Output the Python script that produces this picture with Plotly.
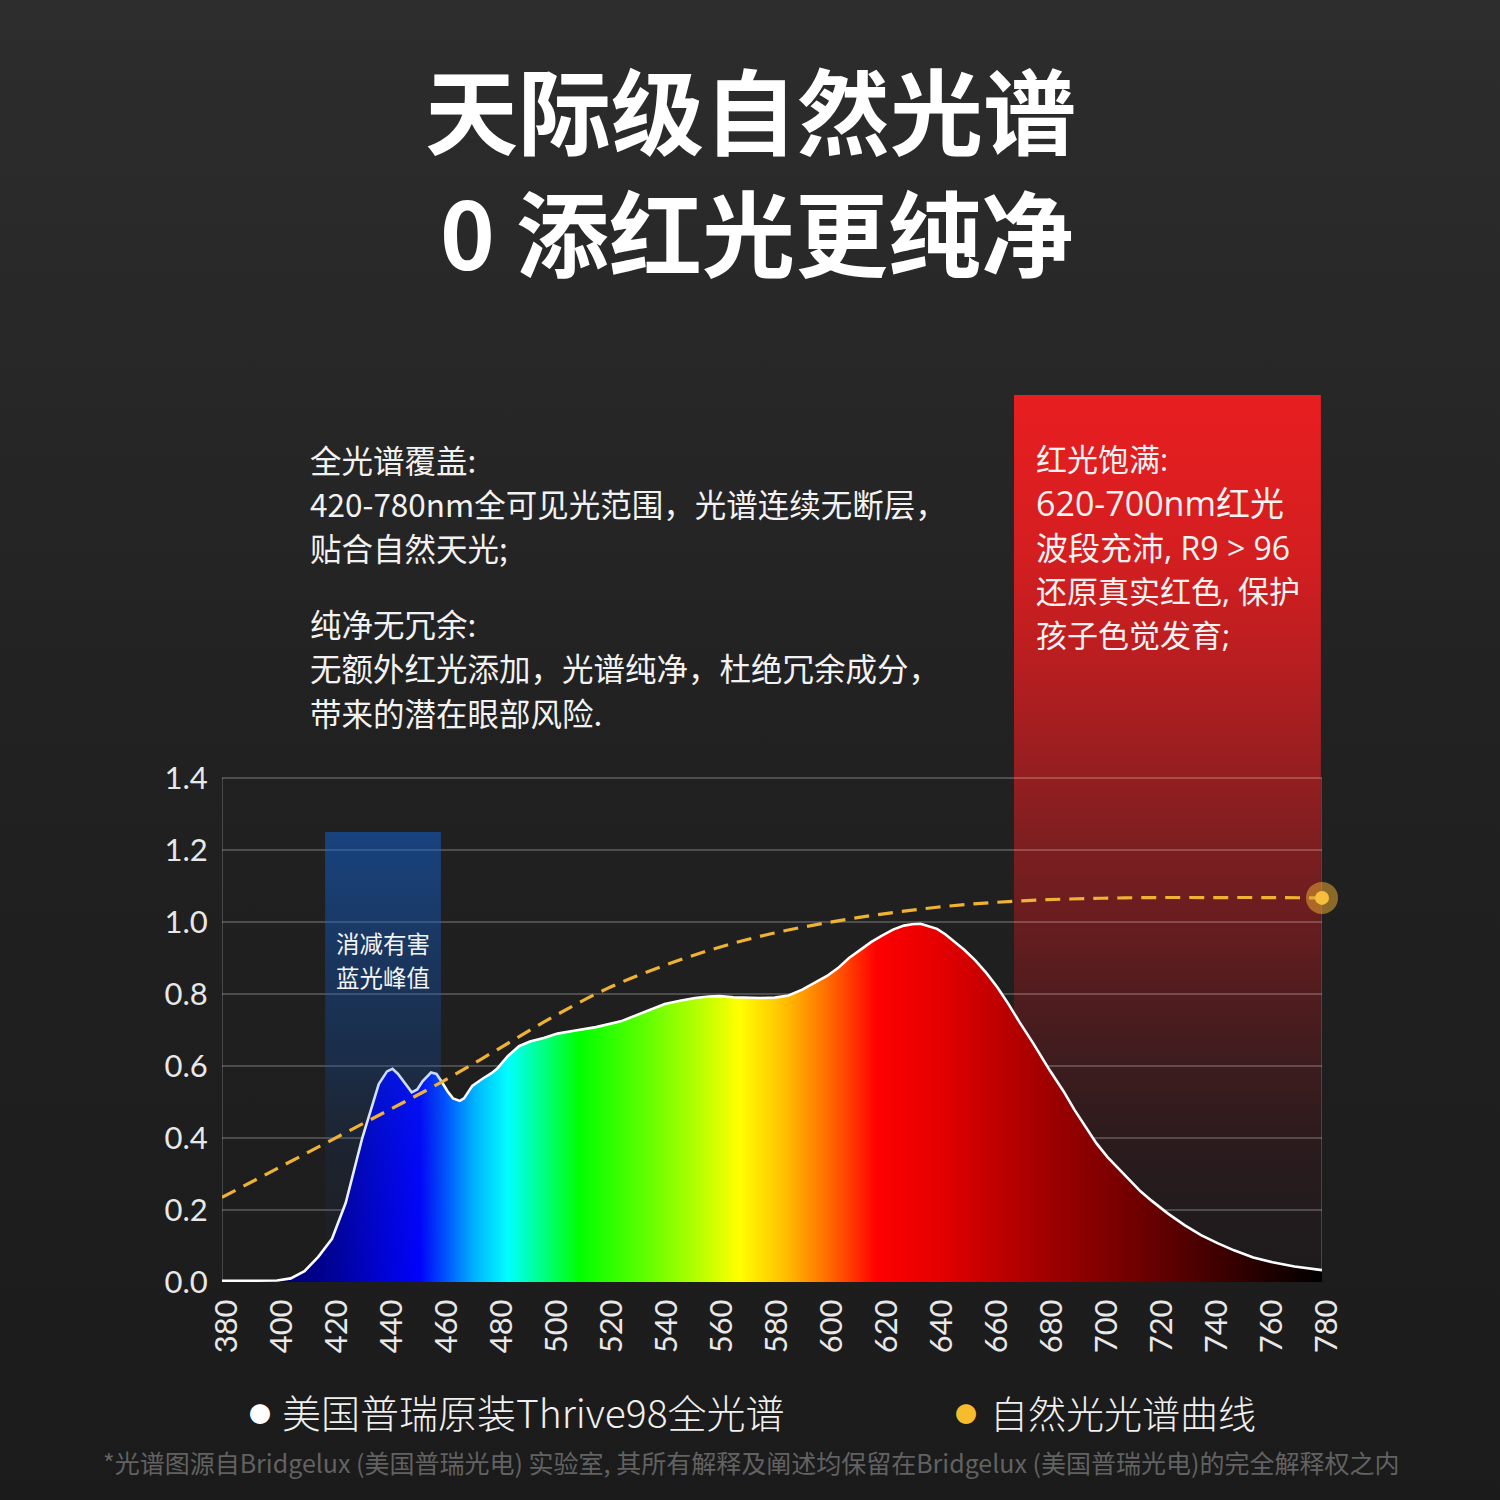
import plotly.graph_objects as go

# ---------------- data ----------------
wavelength = [380, 390, 400, 405, 410, 415, 420, 425, 428, 431, 434, 437, 440, 442, 444, 447, 449,
              451, 453, 456, 458, 460, 462, 464, 466.5, 468, 471, 475, 478, 480, 484, 488, 492, 497,
              502, 508, 516, 525, 533, 541, 547, 552, 557, 561, 566, 571, 576, 581, 586, 591, 595,
              600, 604, 608, 612, 616, 620, 624, 628, 631, 634, 637, 640, 643, 646, 650, 654, 658,
              662, 666, 670, 675, 681, 686, 690, 694, 698, 702, 706, 710, 714, 718, 724, 730, 736,
              742, 748, 755, 762, 770, 775, 780]
thrive98 = [0.003, 0.003, 0.004, 0.01, 0.03, 0.07, 0.12, 0.22, 0.31, 0.40, 0.475, 0.55, 0.585, 0.592,
            0.578, 0.548, 0.527, 0.535, 0.558, 0.582, 0.578, 0.555, 0.53, 0.51, 0.503, 0.51, 0.545,
            0.566, 0.58, 0.592, 0.628, 0.655, 0.668, 0.678, 0.69, 0.698, 0.708, 0.724, 0.748, 0.772,
            0.782, 0.789, 0.793, 0.794, 0.791, 0.789, 0.789, 0.79, 0.796, 0.812, 0.828, 0.85, 0.872,
            0.9, 0.922, 0.944, 0.962, 0.979, 0.99, 0.994, 0.995, 0.988, 0.981, 0.966, 0.948, 0.922,
            0.893, 0.858, 0.818, 0.772, 0.722, 0.663, 0.588, 0.53, 0.478, 0.43, 0.385, 0.347, 0.315,
            0.282, 0.252, 0.226, 0.19, 0.158, 0.13, 0.108, 0.088, 0.068, 0.055, 0.043, 0.038, 0.033]

natural_wl = [380, 400, 420, 440, 460, 480, 500, 520, 540, 560, 580, 600, 620, 640, 660, 680, 700,
              720, 740, 760, 780]
natural = [0.235, 0.315, 0.395, 0.475, 0.556, 0.645, 0.735, 0.815, 0.877, 0.928, 0.968, 0.998,
           1.022, 1.041, 1.054, 1.062, 1.066, 1.068, 1.068, 1.068, 1.067]

x_ticks = list(range(380, 781, 20))
x_ticktext = [str(v) for v in x_ticks]
y_ticks = [0.0, 0.2, 0.4, 0.6, 0.8, 1.0, 1.2, 1.4]
y_ticktext = ["0.0", "0.2", "0.4", "0.6", "0.8", "1.0", "1.2", "1.4"]

blue_band = [417.5, 459.6]   # highlighted harmful blue peak zone
blue_top = 1.25
red_band = [668, 779.6]      # highlighted red zone
red_top = 2.464

title_lines = ["天际级自然光谱", "0 添红光更纯净"]
left_text = ["全光谱覆盖:", "420-780nm全可见光范围，光谱连续无断层，", "贴合自然天光;",
             "纯净无冗余:", "无额外红光添加，光谱纯净，杜绝冗余成分，", "带来的潜在眼部风险."]
red_text = ["红光饱满:", "620-700nm红光", "波段充沛, R9 > 96", "还原真实红色, 保护", "孩子色觉发育;"]
blue_text = ["消减有害", "蓝光峰值"]
legend_names = ["美国普瑞原装Thrive98全光谱", "自然光光谱曲线"]
footnote = "*光谱图源自Bridgelux (美国普瑞光电) 实验室, 其所有解释及阐述均保留在Bridgelux (美国普瑞光电)的完全解释权之内"

# ---------------- styling ----------------
W = H = 1500
PL, PR, PT, PB = 222, 1322, 395, 1282
CJK = "Noto Sans CJK SC"
NUM = "Lato"

spectrum_scale = [
    [0.0, "rgb(0,0,90)"], [0.05, "rgb(0,0,110)"], [0.10, "rgb(0,0,150)"], [0.15, "rgb(0,0,220)"],
    [0.18, "rgb(0,0,255)"], [0.205, "rgb(0,90,255)"], [0.23, "rgb(0,180,255)"], [0.26, "rgb(0,255,255)"],
    [0.2925, "rgb(0,255,130)"], [0.325, "rgb(0,255,0)"], [0.3875, "rgb(100,255,0)"],
    [0.4375, "rgb(190,255,0)"], [0.47, "rgb(255,255,0)"], [0.5125, "rgb(255,190,0)"],
    [0.55, "rgb(255,110,0)"], [0.595, "rgb(255,0,0)"], [0.65, "rgb(230,0,0)"], [0.75, "rgb(160,0,0)"],
    [0.85, "rgb(100,0,0)"], [0.925, "rgb(50,0,0)"], [1.0, "rgb(0,0,0)"]]

red_scale = [
    [0.0, "rgb(30,27,29)"], [0.08, "rgb(34,27,29)"], [0.16, "rgb(44,27,29)"], [0.24, "rgb(60,28,30)"],
    [0.32, "rgb(80,28,30)"], [0.41, "rgb(105,29,31)"], [0.49, "rgb(125,30,32)"],
    [0.57, "rgb(148,30,32)"], [0.70, "rgb(185,30,32)"], [0.82, "rgb(212,30,32)"],
    [1.0, "rgb(232,30,32)"]]

blue_scale = [
    [0.0, "rgba(20,60,140,0.03)"], [0.3, "rgba(20,80,180,0.12)"], [0.5, "rgba(15,90,200,0.25)"],
    [0.8, "rgba(15,100,220,0.38)"], [1.0, "rgba(15,105,230,0.48)"]]

bg_scale = [[0.0, "rgb(27,27,27)"], [0.5, "rgb(33,33,33)"], [1.0, "rgb(45,45,45)"]]

fig = go.Figure()

# background gradient (full paper subplot)
fig.add_trace(go.Scatter(x=[0, 1, 1, 0, 0], y=[0, 0, 1, 1, 0], mode="lines", fill="toself",
                         line=dict(width=0), fillgradient=dict(type="vertical", colorscale=bg_scale,
                                                               start=0, stop=1),
                         hoverinfo="skip", showlegend=False, xaxis="x", yaxis="y"))

# red highlight band
fig.add_trace(go.Scatter(x=[red_band[0], red_band[1], red_band[1], red_band[0], red_band[0]],
                         y=[0, 0, red_top, red_top, 0], mode="lines", fill="toself",
                         line=dict(width=0),
                         fillgradient=dict(type="vertical", colorscale=red_scale, start=0, stop=red_top),
                         hoverinfo="skip", showlegend=False, xaxis="x2", yaxis="y2"))

# grid lines (from tick values) + plot frame sides
gx, gy = [], []
for v in y_ticks:
    gx += [x_ticks[0], x_ticks[-1], None]
    gy += [v, v, None]
for xv in (x_ticks[0], x_ticks[-1]):
    gx += [xv, xv, None]
    gy += [y_ticks[0], y_ticks[-1], None]
fig.add_trace(go.Scatter(x=gx, y=gy, mode="lines", line=dict(color="rgba(255,255,255,0.28)", width=1.3),
                         hoverinfo="skip", showlegend=False, xaxis="x2", yaxis="y2"))

# spectrum
fig.add_trace(go.Scatter(x=wavelength, y=thrive98, mode="lines", fill="tozeroy",
                         line=dict(color="white", width=2.6),
                         fillgradient=dict(type="horizontal", colorscale=spectrum_scale,
                                           start=380, stop=780),
                         name=legend_names[0], hoverinfo="skip", showlegend=False,
                         xaxis="x2", yaxis="y2"))

# blue highlight band (translucent, over the spectrum)
fig.add_trace(go.Scatter(x=[blue_band[0], blue_band[1], blue_band[1], blue_band[0], blue_band[0]],
                         y=[0, 0, blue_top, blue_top, 0], mode="lines", fill="toself",
                         line=dict(width=0),
                         fillgradient=dict(type="vertical", colorscale=blue_scale, start=0, stop=blue_top),
                         hoverinfo="skip", showlegend=False, xaxis="x2", yaxis="y2"))

# natural light curve
fig.add_trace(go.Scatter(x=natural_wl, y=natural, mode="lines", line_shape="spline",
                         line=dict(color="#f0b232", width=3.2, dash="15px,9px"),
                         name=legend_names[1], hoverinfo="skip", showlegend=False,
                         xaxis="x2", yaxis="y2", cliponaxis=False))
fig.add_trace(go.Scatter(x=[natural_wl[-1]], y=[natural[-1]], mode="markers",
                         marker=dict(size=32, color="rgba(225,165,50,0.55)"),
                         hoverinfo="skip", showlegend=False, xaxis="x2", yaxis="y2", cliponaxis=False))
fig.add_trace(go.Scatter(x=[natural_wl[-1]], y=[natural[-1]], mode="markers",
                         marker=dict(size=14, color="#f7bd3c"),
                         hoverinfo="skip", showlegend=False, xaxis="x2", yaxis="y2", cliponaxis=False))

ann = []
def px_text(text, x, y, size, color="#f2f2f2", xanchor="left", weight=400, family=CJK):
    ann.append(dict(text=text, x=x / W, y=1 - y / H, xref="paper", yref="paper",
                    xanchor=xanchor, yanchor="middle", showarrow=False,
                    font=dict(family=family, size=size, color=color, weight=weight)))

px_text(title_lines[0], 750, 108, 93, "white", "center", 700)
px_text(title_lines[1], 757, 230, 93, "white", "center", 700)

for t, yy in zip(left_text, [459, 503, 547, 623, 667, 712]):
    px_text(t, 308, yy, 31.5)
RED_FONT = "Open Sans, " + CJK
red_sizes = [31, 34, 32, 31, 31]
for t, yy, sz in zip(red_text, [459, 503, 547, 591, 635], red_sizes):
    px_text(t, 1034, yy, sz, family=RED_FONT)
for t, yy in zip(blue_text, [943, 977]):
    px_text(t, 383, yy, 23.5, "#f4f4f4", "center")

px_text("●", 260, 1412, 22, "white", "center")
px_text(legend_names[0], 280, 1411, 39, "#f0f0f0", "left", 300)
px_text("●", 966, 1412, 22, "#f7bb2e", "center")
px_text(legend_names[1], 988, 1411, 38, "#f0f0f0", "left", 300)
px_text(footnote, 751, 1462, 25, "#626262", "center")

fig.update_layout(
    width=W, height=H, autosize=False,
    margin=dict(l=0, r=0, t=0, b=0),
    paper_bgcolor="#222222", plot_bgcolor="rgba(0,0,0,0)",
    showlegend=False,
    annotations=ann,
    xaxis=dict(domain=[0, 1], range=[0, 1], visible=False, fixedrange=True),
    yaxis=dict(domain=[0, 1], range=[0, 1], visible=False, fixedrange=True),
    xaxis2=dict(domain=[PL / W, PR / W], range=[380, 780], anchor="y2",
                tickvals=x_ticks, ticktext=x_ticktext, tickangle=-90,
                ticks="outside", ticklen=4, tickcolor="rgba(0,0,0,0)", ticklabelshift=5,
                tickfont=dict(family=NUM, size=31, color="#e8e8e8"),
                showgrid=False, zeroline=False, showline=False, automargin=False),
    yaxis2=dict(domain=[1 - PB / H, 1 - PT / H], range=[0, red_top], anchor="x2",
                tickvals=y_ticks, ticktext=y_ticktext,
                ticks="outside", ticklen=7, tickcolor="rgba(0,0,0,0)",
                tickfont=dict(family=NUM, size=31, color="#e8e8e8"),
                showgrid=False, zeroline=False, showline=False, automargin=False),
)

fig.write_html("out.html", config={"displayModeBar": False},
               post_script="document.body.style.margin='0';document.body.style.background='#222';")
